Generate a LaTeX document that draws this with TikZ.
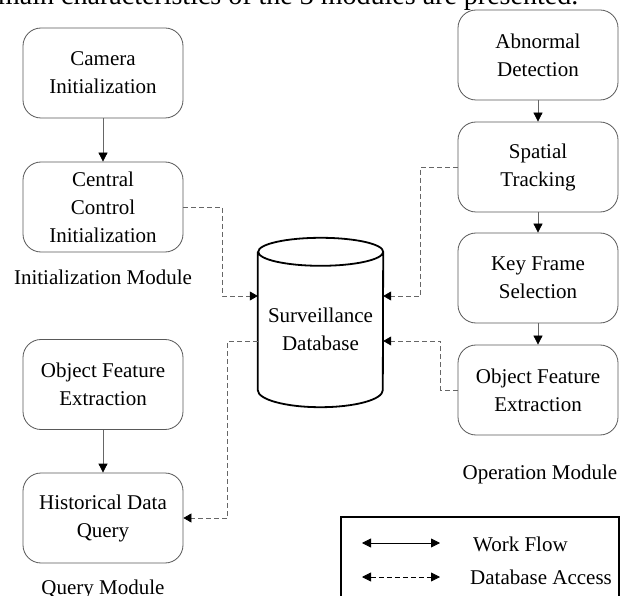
\documentclass[tikz,border=0pt]{standalone}
\usepackage{fontspec}
\setmainfont{Liberation Serif}
\usetikzlibrary{arrows.meta, positioning}

\tikzset{
  every node/.style={font=\fontsize{21}{28}\selectfont},
  stage/.style={draw=black!65, line width=0.8pt, rounded corners=18pt,
    minimum width=160pt, minimum height=90pt, align=center, inner sep=2pt},
  modlabel/.style={anchor=base, inner sep=0pt},
  workflow/.style={draw=black!60, line width=0.8pt,
    -{Triangle[width=9pt,length=9pt,color=black]}},
  dbaccess/.style={draw=black!60, line width=0.8pt, dash pattern=on 5pt off 3pt,
    -{Triangle[width=9pt,length=8pt,color=black]}},
}

\begin{document}
\begin{tikzpicture}[x=1pt,y=1pt]
  \useasboundingbox (0,0) rectangle (627,-596);
  \fill[white] (0,0) rectangle (627,-596);

  % caption line cut by the top edge
  \node[anchor=base west, inner sep=0pt, font=\fontsize{28}{32}\selectfont] (capline) at (-2,-5)
    {main characteristics of the 3 modules are presented.};

  % initialization module
  \node[stage] (cam) at (103,-73) {Camera\\Initialization};
  \node[stage] (cci) at (103,-207) {Central\\Control\\Initialization};
  \node[modlabel] (initlbl) at (103,-285) {Initialization Module};
  \draw[workflow] (cam) -- (cci);

  % query module
  \node[stage] (qofe) at (103,-384.5) {Object Feature\\Extraction};
  \node[stage] (hdq) at (103,-518) {Historical Data\\Query};
  \node[modlabel] (qlbl) at (103,-594) {Query Module};
  \draw[workflow] (qofe) -- (hdq);

  % operation module
  \node[stage] (abn) at (538,-55) {Abnormal\\Detection};
  \node[stage] (spt) at (538,-167) {Spatial\\Tracking};
  \node[stage] (kfs) at (538,-278) {Key Frame\\Selection};
  \node[stage] (oofe) at (538,-390) {Object Feature\\Extraction};
  \node[modlabel] (oplbl) at (540,-479) {Operation Module};
  \draw[workflow] (abn) -- (spt);
  \draw[workflow] (spt) -- (kfs);
  \draw[workflow] (kfs) -- (oofe);

  % database
  \node[minimum width=125pt, minimum height=138pt, inner sep=0pt] (db) at (320.5,-321) {};
  \node[align=center] (dbtext) at (320.5,-329) {Surveillance\\Database};
  \draw[line width=1.8pt] (db.north west) -- (db.south west)
    arc[start angle=180, end angle=360, x radius=62.5pt, y radius=17pt]
    -- (db.north east)
    arc[start angle=0, end angle=360, x radius=62.5pt, y radius=14pt];

  % database access
  \draw[dbaccess] (cci.east) -- ++(39,0) |- ([yshift=25pt]db.west);
  \draw[dbaccess] (spt.west) -- ++(-37,0) |- ([yshift=25pt]db.east);
  \draw[dbaccess] (oofe.west) -- ++(-17,0) |- ([yshift=-20pt]db.east);
  \draw[dbaccess] ([yshift=-20pt]db.west) -- ++(-30,0) |- (hdq.east);

  % legend
  \draw[line width=1.6pt] (341,-517) rectangle (619,-605);
  \coordinate (wfa) at (362,-543);
  \coordinate (wfb) at (440,-543);
  \coordinate (dba) at (362,-577);
  \coordinate (dbb) at (440,-577);
  \draw[line width=0.8pt, {Triangle[width=9pt,length=9pt]}-{Triangle[width=9pt,length=9pt]}] (wfa) -- (wfb);
  \draw[line width=0.8pt, dash pattern=on 5pt off 3pt,
    {Triangle[width=9pt,length=9pt]}-{Triangle[width=9pt,length=9pt]}] (dba) -- (dbb);
  \node[anchor=west, inner sep=0pt] (wflbl) at (473,-544) {Work Flow};
  \node[anchor=west, inner sep=0pt] (dblbl) at (470,-577) {Database Access};
\end{tikzpicture}
\end{document}
